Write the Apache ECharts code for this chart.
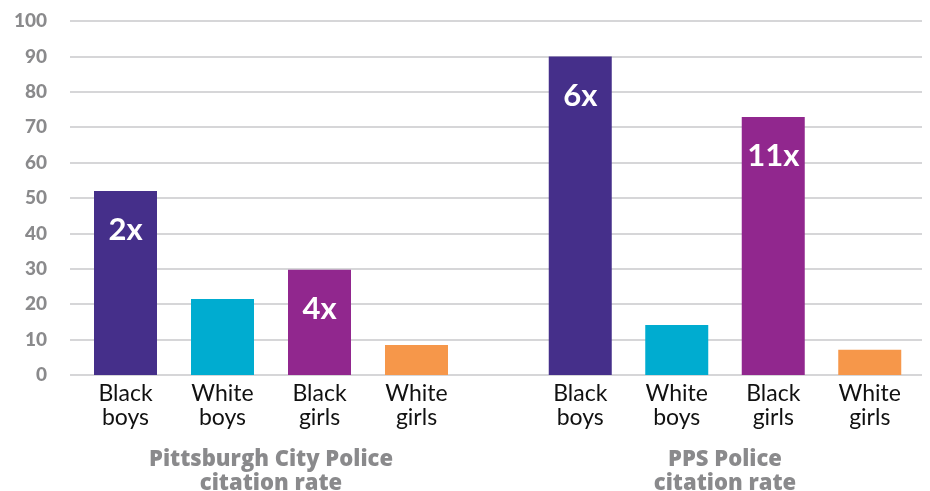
<!DOCTYPE html>
<html><head><meta charset="utf-8">
<script src="https://cdn.jsdelivr.net/npm/echarts@6/dist/echarts.min.js"></script>
<style>html,body{margin:0;padding:0;background:#fff}#c{width:930px;height:491px}</style>
</head><body><div id="c"></div>
<script>
var categories = ['Black\nboys', 'White\nboys', 'Black\ngirls', 'White\ngirls'];
var cityValues = [52, 21.5, 29.7, 8.5];
var ppsValues = [90, 14.1, 72.9, 7.1];
var cityMultipliers = ['2x', '', '4x', ''];
var ppsMultipliers = ['6x', '', '11x', ''];
var groupNames = ['Pittsburgh City Police\ncitation rate', 'PPS Police\ncitation rate'];
var barColors = ['#452f8a', '#00acd0', '#91278e', '#f6974a'];

var chart = echarts.init(document.getElementById('c'), null, {renderer: 'canvas'});
var TOP = 21, BOTTOM = 116;
function catAxis(gi, name) {
  return {
    type: 'category', gridIndex: gi, data: categories,
    axisLine: {show: false}, axisTick: {show: false},
    axisLabel: {fontFamily: 'Lato', fontSize: 23, lineHeight: 24, color: '#111', margin: 7},
    name: name, nameLocation: 'middle', nameGap: 73,
    nameTextStyle: {fontFamily: 'Open Sans', fontWeight: 800, fontSize: 22, lineHeight: 24, color: '#8a8a8c'}
  };
}
function hiddenY(gi) {
  return {type: 'value', gridIndex: gi, min: 0, max: 100, interval: 10, show: false, splitLine: {show: false}};
}
function barSeries(gi, values, mult) {
  return {
    type: 'bar', xAxisIndex: gi, yAxisIndex: gi, data: values, barWidth: 63,
    itemStyle: {color: function (p) { return barColors[p.dataIndex]; }},
    label: {
      show: true, position: 'insideTop', distance: 24,
      formatter: function (p) { return mult[p.dataIndex]; },
      fontFamily: 'Lato', fontWeight: 'bold', fontSize: 31, color: '#fff'
    },
    silent: true, animation: false
  };
}
chart.setOption({
  animation: false,
  grid: [
    {left: 70, right: 8, top: TOP, bottom: BOTTOM, outerBoundsMode: 'none', containLabel: false},
    {left: 77, width: 388, top: TOP, bottom: BOTTOM, outerBoundsMode: 'none', containLabel: false},
    {left: 532, width: 386, top: TOP, bottom: BOTTOM, outerBoundsMode: 'none', containLabel: false}
  ],
  xAxis: [
    {type: 'value', gridIndex: 0, min: 0, max: 1, show: false},
    catAxis(1, groupNames[0]),
    catAxis(2, groupNames[1])
  ],
  yAxis: [
    {type: 'value', gridIndex: 0, min: 0, max: 100, interval: 10,
     axisLine: {show: false}, axisTick: {show: false},
     axisLabel: {fontFamily: 'Lato', fontWeight: 900, fontSize: 19, color: '#8a8a8c', margin: 23},
     splitLine: {lineStyle: {color: '#c8c9cb', width: 1.5}}},
    hiddenY(1), hiddenY(2)
  ],
  series: [
    barSeries(1, cityValues, cityMultipliers),
    barSeries(2, ppsValues, ppsMultipliers)
  ]
});
</script>
</body></html>
